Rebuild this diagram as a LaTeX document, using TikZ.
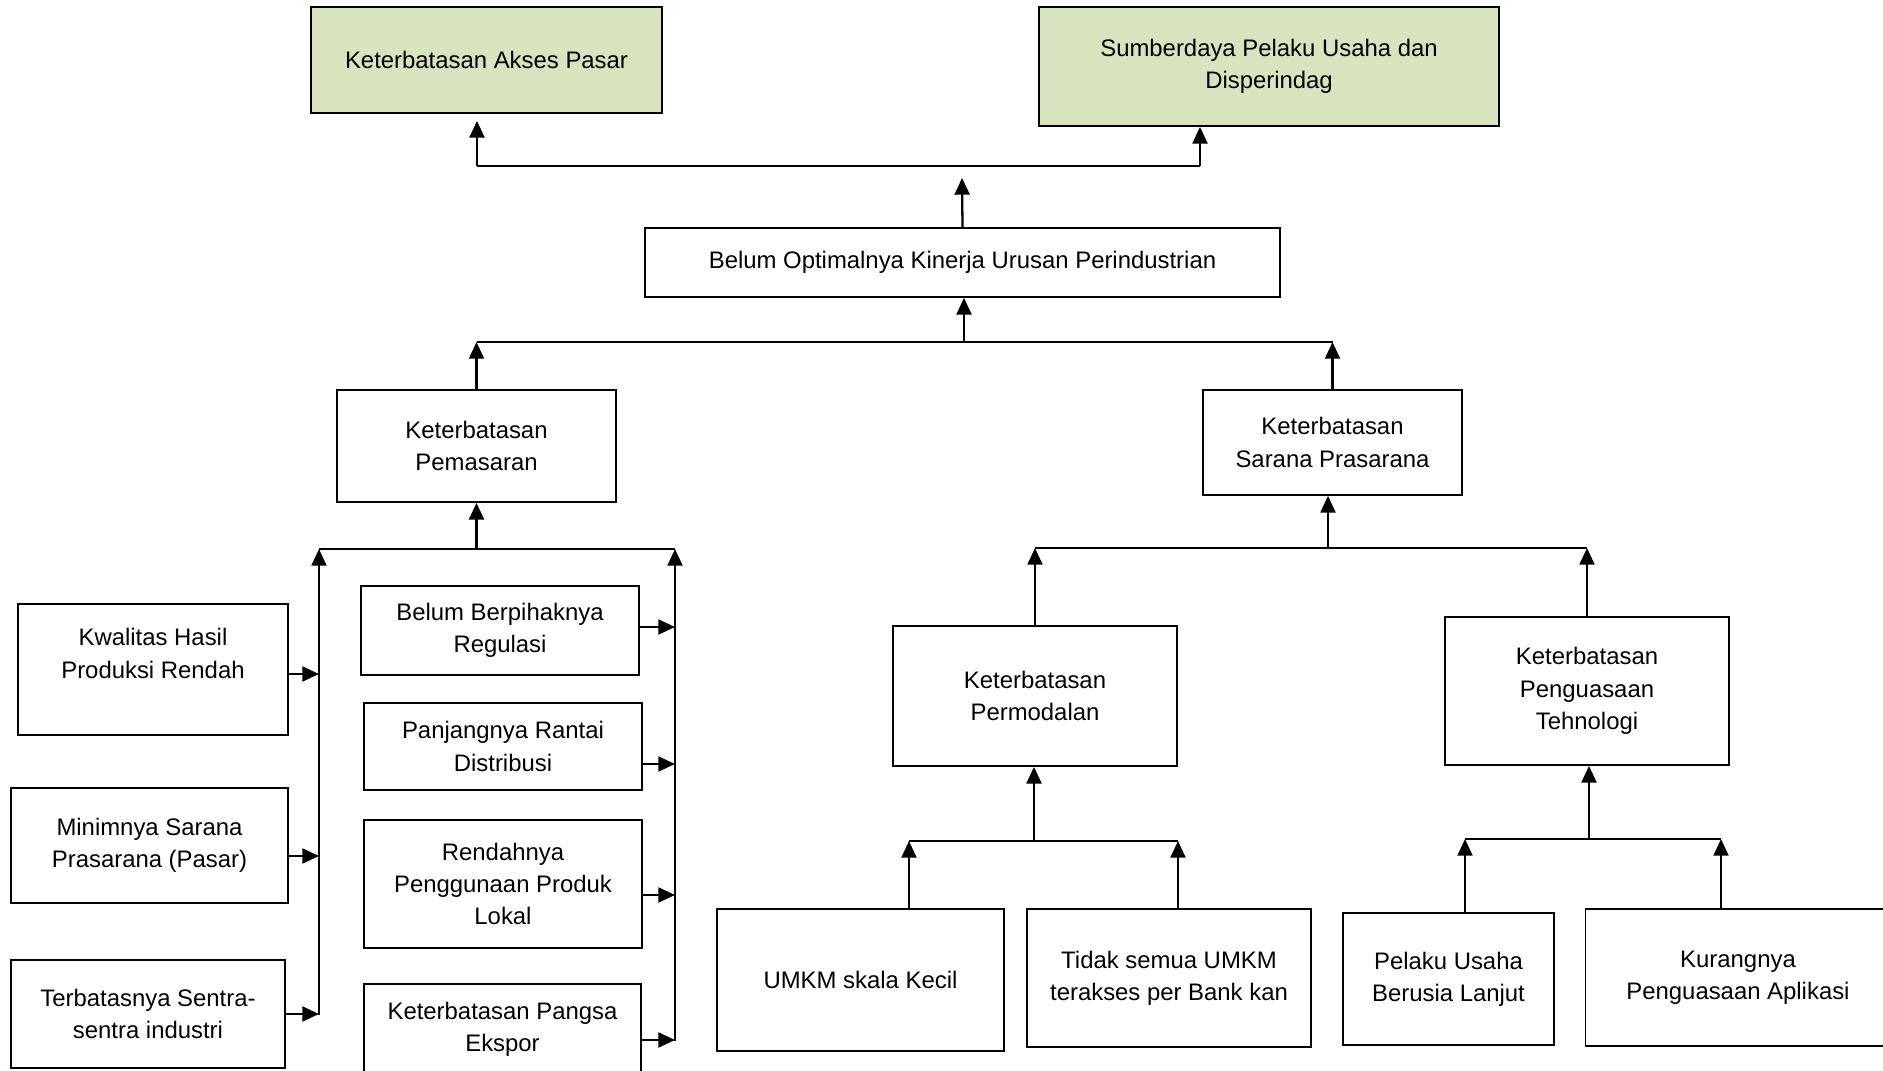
\documentclass[tikz,border=0pt]{standalone}
\usepackage{fontspec}
\setmainfont{Liberation Sans}
\usetikzlibrary{arrows.meta}
\definecolor{hijau}{HTML}{D7E4BD}

\begin{document}
\begin{tikzpicture}[x=0.02cm,y=-0.02cm,
    box/.style={draw,line width=1pt,align=center,inner sep=0pt,font=\fontsize{13.6}{18.4}\selectfont},
    hasil/.style={box,fill=hijau},
    arr/.style={line width=1.3pt,-{Triangle[length=9.5pt,width=8.5pt]}},
    bus/.style={line width=1.3pt}]
\useasboundingbox (0,0) rectangle (1883,1071);

\node[hasil,minimum width=7.02cm,minimum height=2.12cm] (pasar) at (486.5,60) {Keterbatasan Akses Pasar};
\node[hasil,minimum width=9.2cm,minimum height=2.38cm] (sumber) at (1269,66.5) {Sumberdaya Pelaku Usaha dan\\Disperindag};
\node[box,minimum width=12.7cm,minimum height=1.38cm] (opt) at (962.5,262.5) {Belum Optimalnya Kinerja Urusan Perindustrian};
\node[box,minimum width=5.58cm,minimum height=2.24cm] (pem) at (476.5,446) {Keterbatasan\\Pemasaran};
\node[box,minimum width=5.18cm,minimum height=2.1cm] (sar) at (1332.5,442.5) {Keterbatasan\\Sarana Prasarana};

\node[box,minimum width=5.4cm,minimum height=2.62cm] (kwal) at (153,669.5) {Kwalitas Hasil\\Produksi Rendah\\\mbox{}};
\node[box,minimum width=5.54cm,minimum height=2.3cm] (mini) at (149.5,845.5) {Minimnya Sarana\\Prasarana (Pasar)};
\node[box,minimum width=5.48cm,minimum height=2.16cm] (terb) at (148,1014) {Terbatasnya Sentra-\\sentra industri};
\node[box,minimum width=5.56cm,minimum height=1.78cm] (berp) at (500,630.5) {Belum Berpihaknya\\Regulasi};
\node[box,minimum width=5.56cm,minimum height=1.74cm] (panj) at (503,746.5) {Panjangnya Rantai\\Distribusi};
\node[box,minimum width=5.56cm,minimum height=2.56cm] (rend) at (503,884) {Rendahnya\\Penggunaan Produk\\Lokal};
\node[box,minimum width=5.54cm,minimum height=1.82cm] (pang) at (502.5,1029.5) {Keterbatasan Pangsa\\Ekspor};

\node[box,minimum width=5.68cm,minimum height=2.8cm] (perm) at (1035,696) {Keterbatasan\\Permodalan};
\node[box,minimum width=5.68cm,minimum height=2.96cm] (tehn) at (1587,691) {Keterbatasan\\Penguasaan\\Tehnologi};
\node[box,minimum width=5.74cm,minimum height=2.84cm] (umkm) at (860.5,980) {UMKM skala Kecil};
\node[box,minimum width=5.68cm,minimum height=2.76cm] (tidak) at (1169,978) {Tidak semua UMKM\\terakses per Bank kan};
\node[box,minimum width=4.22cm,minimum height=2.64cm] (pelaku) at (1448.5,979) {Pelaku Usaha\\Berusia Lanjut};
\node[box,minimum width=6.1cm,minimum height=2.74cm] (kurang) at (1738,977.5) {Kurangnya\\Penguasaan Aplikasi};

\coordinate (kiriAtas) at (477,166);
\coordinate (kananAtas) at (1200,166);
\coordinate (ujungOpt) at (962,178);
\draw[bus] (kiriAtas) -- (kananAtas);
\draw[arr,shorten >=4pt] (kiriAtas) -- (pasar.south -| kiriAtas);
\draw[arr] (kananAtas) -- (sumber.south -| kananAtas);
\draw[arr] (opt.north) -- (ujungOpt);

\coordinate (tengah2) at (964,342);
\draw[bus] (pem.north |- tengah2) -- (sar.north |- tengah2);
\draw[arr] (tengah2) -- (opt.south -| tengah2);
\draw[arr] (pem.north) -- (pem.north |- tengah2);
\draw[arr] (sar.north) -- (sar.north |- tengah2);

\coordinate (busKiri) at (319,549);
\coordinate (busKanan) at (675,549);
\coordinate (dasarKiri) at (319,1015);
\coordinate (dasarKanan) at (675,1041);
\draw[bus] (busKiri) -- (busKanan);
\draw[arr] (pem.south |- busKiri) -- (pem.south);
\draw[arr] (dasarKiri) -- (busKiri);
\draw[arr] (dasarKanan) -- (busKanan);
\draw[arr] ([yshift=-0.09cm]kwal.east) -- ([yshift=-0.09cm]kwal.east -| busKiri);
\draw[arr] ([yshift=-0.21cm]mini.east) -- ([yshift=-0.21cm]mini.east -| busKiri);
\draw[arr] (terb.east) -- (terb.east -| busKiri);
\draw[arr] ([yshift=0.07cm]berp.east) -- ([yshift=0.07cm]berp.east -| busKanan);
\draw[arr] ([yshift=-0.35cm]panj.east) -- ([yshift=-0.35cm]panj.east -| busKanan);
\draw[arr] ([yshift=-0.22cm]rend.east) -- ([yshift=-0.22cm]rend.east -| busKanan);
\draw[arr] ([yshift=-0.21cm]pang.east) -- ([yshift=-0.21cm]pang.east -| busKanan);

\coordinate (busSarana) at (1328,548);
\draw[bus] (perm.north |- busSarana) -- (tehn.north |- busSarana);
\draw[arr] (busSarana) -- (sar.south -| busSarana);
\draw[arr] (perm.north) -- (perm.north |- busSarana);
\draw[arr] (tehn.north) -- (tehn.north |- busSarana);

\coordinate (busModal) at (1034,841);
\coordinate (modalKiri) at (909,841);
\coordinate (modalKanan) at (1178,841);
\draw[bus] (modalKiri) -- (modalKanan);
\draw[arr] (busModal) -- (perm.south -| busModal);
\draw[arr] (umkm.north -| modalKiri) -- (modalKiri);
\draw[arr] (tidak.north -| modalKanan) -- (modalKanan);

\coordinate (busTekno) at (1589,839);
\coordinate (tekKiri) at (1465,839);
\coordinate (tekKanan) at (1721,839);
\draw[bus] (tekKiri) -- (tekKanan);
\draw[arr] (busTekno) -- (tehn.south -| busTekno);
\draw[arr] (pelaku.north -| tekKiri) -- (tekKiri);
\draw[arr] (kurang.north -| tekKanan) -- (tekKanan);
\end{tikzpicture}
\end{document}
